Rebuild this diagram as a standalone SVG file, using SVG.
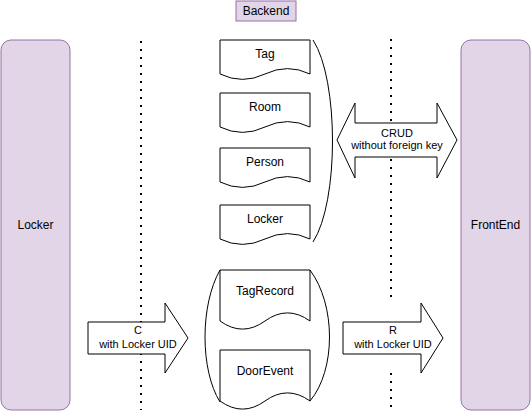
<svg xmlns="http://www.w3.org/2000/svg" width="531" height="413" viewBox="0 0 531 413">
<style>
text{font-family:"Liberation Sans",Arial,sans-serif;fill:#000;text-anchor:middle;dominant-baseline:central}
.t12{font-size:12px}
.t11{font-size:11px}
.purple{fill:#e1d5e7;stroke:#9673a6;stroke-width:1}
.doc{fill:#fff;stroke:#000;stroke-width:1}
.arrow{fill:#fff;stroke:#000;stroke-width:1}
.curve{fill:none;stroke:#000;stroke-width:1}
.dots{stroke:#000;stroke-width:2;stroke-dasharray:2 6;fill:none}
</style>
<g id="connectors">
<line class="dots" x1="141" y1="41" x2="141" y2="410"/>
<line class="dots" x1="391" y1="39" x2="391" y2="303"/>
<line class="dots" x1="391" y1="373" x2="391" y2="410"/>
</g>
<g id="backend-label">
<rect class="purple" x="236" y="1" width="60" height="20"/>
<text class="t12" x="266" y="11">Backend</text>
</g>
<g id="locker-side">
<rect class="purple" x="1" y="40" width="69" height="370" rx="10" ry="10"/>
<text class="t12" x="35.5" y="225">Locker</text>
</g>
<g id="frontend-side">
<rect class="purple" x="461" y="40" width="69" height="370" rx="10" ry="10"/>
<text class="t12" x="495.5" y="225">FrontEnd</text>
</g>
<g id="doc-tag">
<path class="doc" d="M220,40 H310 V74 Q287.5,63.2 265,74 Q242.5,84.8 220,74 Z"/>
<text class="t12" x="265" y="54">Tag</text>
</g>
<g id="doc-room">
<path class="doc" d="M220,93 H310 V127 Q287.5,116.2 265,127 Q242.5,137.8 220,127 Z"/>
<text class="t12" x="265" y="107">Room</text>
</g>
<g id="doc-person">
<path class="doc" d="M220,148 H310 V182 Q287.5,171.2 265,182 Q242.5,192.8 220,182 Z"/>
<text class="t12" x="265" y="162">Person</text>
</g>
<g id="doc-locker">
<path class="doc" d="M220,205 H310 V239 Q287.5,228.2 265,239 Q242.5,249.8 220,239 Z"/>
<text class="t12" x="265" y="219">Locker</text>
</g>
<g id="bracket-top">
<path class="curve" d="M313,40 C339,80 339,202 313,242"/>
</g>
<g id="doc-tagrecord">
<path class="doc" d="M220,270 H310 V321 Q287.5,304.8 265,321 Q242.5,337.2 220,321 Z"/>
<text class="t12" x="265" y="291">TagRecord</text>
</g>
<g id="doc-doorevent">
<path class="doc" d="M220,350 H310 V401 Q287.5,384.8 265,401 Q242.5,417.2 220,401 Z"/>
<text class="t12" x="265" y="371">DoorEvent</text>
</g>
<g id="bracket-bottom">
<path class="curve" d="M220,270 C200,305 200,370 220,402"/>
<path class="curve" d="M310,270 C336,305 336,370 310,401"/>
</g>
<g id="arrow-crud">
<polygon class="arrow" points="337,140 355,103 355,123 437,123 437,103 457,140 437,178 437,157 355,157 355,178"/>
<text class="t11" x="397" y="133">CRUD</text>
<text class="t11" x="397" y="145">without foreign key</text>
</g>
<g id="arrow-c">
<polygon class="arrow" points="88,322 165,322 165,303 188,338 165,373 165,354 88,354"/>
<text class="t11" x="138" y="330">C</text>
<text class="t11" x="138" y="344">with Locker UID</text>
</g>
<g id="arrow-r">
<polygon class="arrow" points="343,322 421,322 421,303 443,338 421,373 421,354 343,354"/>
<text class="t11" x="393" y="330">R</text>
<text class="t11" x="393" y="344">with Locker UID</text>
</g>
</svg>
